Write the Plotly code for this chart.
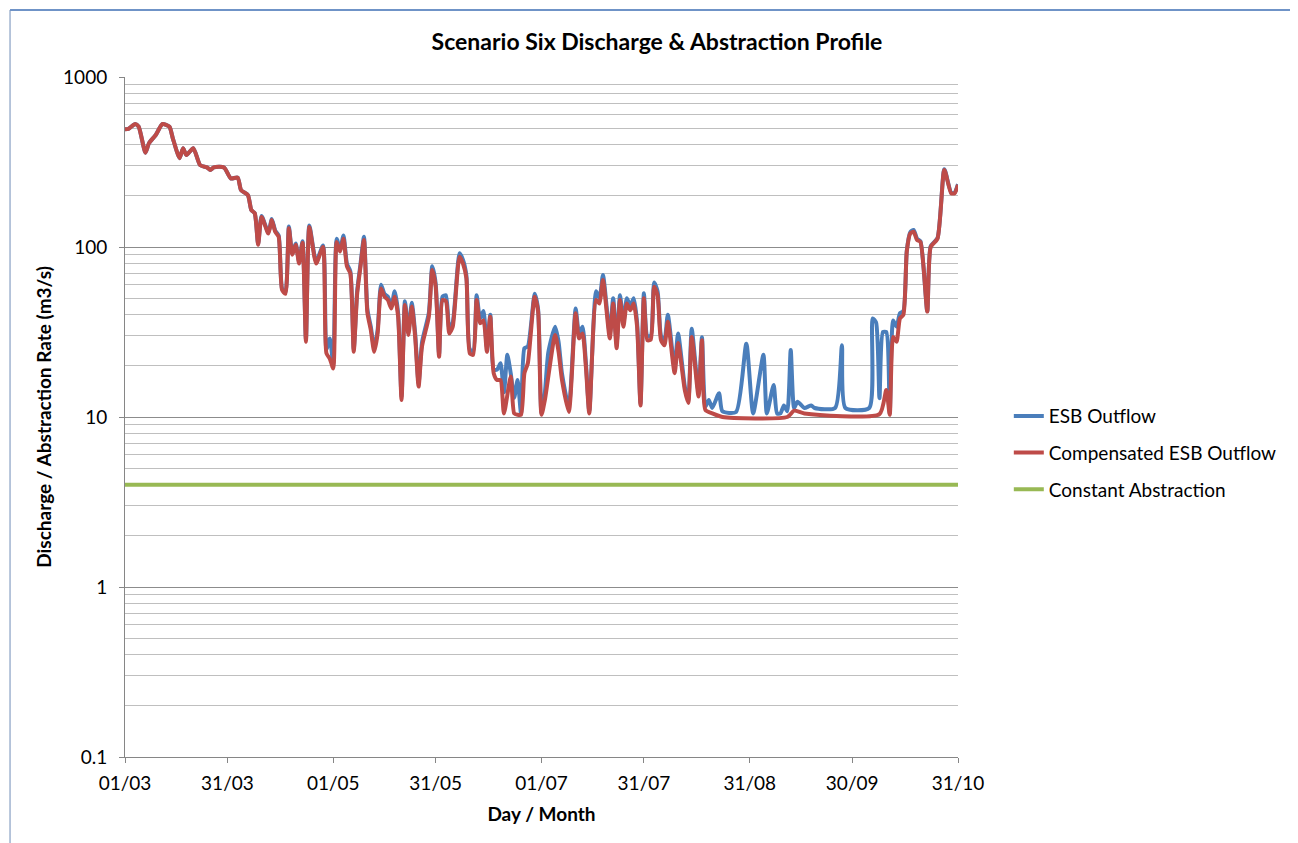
import pandas as pd
import plotly.graph_objects as go

# day offsets from 01/03 and discharge values (m3/s)
start = pd.Timestamp("2011-03-01")

comp_days = [0, 1, 3, 4, 6, 7, 9, 11, 13, 14, 16, 17, 18, 20, 22, 24, 25, 26, 29, 31,
             33, 34, 36, 37, 38, 39, 40, 42, 43, 44, 45, 46, 47, 48, 49, 50, 51, 52, 53, 54,
             56, 58, 59, 60, 61, 62, 63, 64, 65, 66, 67, 68, 69, 70, 71, 72, 73, 74, 75, 76,
             77, 78, 79, 80, 81, 82, 83, 84, 85, 86, 87, 89, 90, 91, 92, 93, 94, 95, 96, 98,
             99, 100, 101, 102, 103, 104, 105, 106, 107, 108, 109, 110, 111, 113, 114, 115, 116, 117, 118, 120,
             121, 122, 123, 126, 127, 128, 130, 132, 133, 134, 135, 136, 138, 139, 140, 142, 143, 144, 145, 146,
             147, 148, 149, 150, 151, 152, 153, 154, 155, 156, 157, 158, 159, 161, 162, 164, 165, 166, 168, 169,
             170, 172, 175, 194, 196, 199, 221, 223, 224, 225, 226, 227, 228, 229, 230, 231, 232, 233, 235, 236,
             238, 240, 242, 243, 244]
comp_values = [492, 495, 529, 510, 359, 407, 456, 529, 510, 436, 333, 381, 348, 381, 303, 294, 284, 294, 294, 253,
               256, 216, 202, 165, 158, 103, 150, 120, 144, 123, 115, 56, 53, 129, 90, 103, 80, 106, 27.7, 131,
               80, 100, 23.7, 22, 19.3, 107, 94, 112, 77, 70, 24.2, 53, 77, 110, 41, 32.5, 24.2, 31, 57, 51,
               48.8, 43.5, 51, 39, 12.6, 45.6, 30.4, 44.6, 29.4, 15.1, 26, 38.9, 73.3, 58.4, 22.6, 48.8, 48, 31, 34, 87.7,
               80, 65.5, 23.7, 23.2, 48.8, 35.6, 37, 24.2, 38.9, 18.1, 16.5, 16.5, 10.5, 17.3, 10.5, 10.3, 10.3, 18.1, 20.7, 51,
               41.7, 10.3, 12.6, 30.4, 24.2, 16.5, 10.7, 40.8, 29, 31, 19.7, 10.5, 48.8, 46.5, 64, 29, 46.5, 25.4, 48.8, 34,
               46.5, 42.5, 46.5, 34, 11.7, 50, 28.3, 28.5, 58.4, 52, 28.3, 26.4, 36.3, 18.1, 27.2, 14.3, 12.1, 29.6, 13.2, 28.3,
               11, 10.5, 10, 10, 10.9, 10.5, 10.4, 14.4, 10.3, 29.6, 27.7, 38, 40, 94, 120, 123, 110, 107, 41.7, 100,
               112, 284, 207, 207, 232]

esb_days = [0, 1, 3, 4, 6, 7, 9, 11, 13, 14, 16, 17, 18, 20, 22, 24, 25, 26, 29, 31,
            33, 34, 36, 37, 38, 39, 40, 42, 43, 44, 45, 46, 47, 48, 49, 50, 51, 52, 53, 54,
            56, 58, 59, 60, 61, 62, 63, 64, 65, 66, 67, 68, 69, 70, 71, 72, 73, 74, 75, 76,
            77, 78, 79, 80, 81, 82, 83, 84, 85, 86, 87, 89, 90, 91, 92, 93, 94, 95, 96, 98,
            99, 100, 101, 102, 103, 104, 105, 106, 107, 108, 109, 110, 111, 112, 113, 114, 115, 116, 117, 118,
            120, 121, 122, 123, 124, 126, 127, 128, 130, 132, 133, 134, 135, 136, 138, 139, 140, 142, 143, 144,
            145, 146, 147, 148, 149, 150, 151, 152, 153, 154, 155, 156, 157, 158, 159, 161, 162, 164, 165, 166,
            168, 169, 170, 171, 172, 174, 175, 179, 182, 184, 187, 188, 190, 191, 192, 193, 194, 195, 196, 197,
            199, 201, 202, 208, 210, 211, 218, 219, 220, 221, 222, 223, 224, 225, 226, 227, 228, 229, 230, 231,
            232, 233, 235, 236, 238, 240, 242, 243, 244]
esb_values = [492, 495, 529, 510, 359, 407, 456, 529, 510, 436, 333, 381, 348, 381, 303, 294, 284, 294, 294, 253,
              256, 216, 202, 165, 158, 104, 152, 122, 146, 125, 117, 57, 54, 132, 92, 105, 82, 108, 28.5, 134,
              82, 102, 25, 29, 20.5, 112, 97, 117, 80, 72, 25, 55, 80, 115, 43, 34, 25.5, 32.5, 60, 53,
              51, 45, 55, 41, 13.2, 48, 32, 47, 31, 15.8, 27.5, 41, 77, 61, 23.5, 51, 52, 33, 36, 92,
              84, 68, 25, 24.5, 52, 38, 42, 25.5, 40, 19, 19, 20.7, 14, 23.2, 18, 13, 16.5, 10.5, 25.4, 26,
              53, 43, 10.5, 14, 24, 34, 27.7, 18, 11.5, 43.5, 31, 34, 21, 10.8, 55, 50, 68.5, 31, 50, 27,
              52, 36, 50, 45, 50, 36, 12, 53.4, 30, 30, 61.8, 55, 30, 28, 40, 19.5, 31, 15, 12.5, 33,
              14, 29.5, 11.5, 12.6, 11.3, 13.8, 10.8, 10.7, 27, 10.5, 23.2, 10.5, 15.4, 10.5, 10.5, 11.7, 10.8, 24.8, 11.3, 12.3,
              11.3, 11.7, 11.3, 11.3, 26.4, 11.3, 11.3, 38, 36, 12.9, 31.6, 31.6, 10.5, 37, 34, 40.8, 42, 95, 122, 126,
              112, 108, 42, 101, 113, 287, 209, 209, 234]

abstraction_days = [0, 244]
abstraction_values = [4, 4]

tick_days = [0, 30, 61, 91, 122, 152, 183, 213, 244]
tick_labels = ["01/03", "31/03", "01/05", "31/05", "01/07", "31/07", "31/08", "30/09", "31/10"]


def to_dates(days):
    return start + pd.to_timedelta(days, unit="D")


fig = go.Figure()
fig.add_trace(go.Scatter(
    x=to_dates(esb_days), y=esb_values, mode="lines", name="ESB Outflow",
    line=dict(color="#4A7EBB", width=4, shape="spline", smoothing=0.6),
    legendgroup="a",
))
fig.add_trace(go.Scatter(
    x=to_dates(comp_days), y=comp_values, mode="lines", name="Compensated ESB Outflow",
    line=dict(color="#BE4B48", width=4, shape="spline", smoothing=0.6),
    legendgroup="b",
))
fig.add_trace(go.Scatter(
    x=to_dates(abstraction_days), y=abstraction_values, mode="lines", name="Constant Abstraction",
    line=dict(color="#98B954", width=4),
    legendgroup="c",
))

minor_vals = [k * 10 ** e for e in range(-1, 3) for k in range(2, 10)]

fig.update_layout(
    width=1298,
    height=843,
    margin=dict(l=117, r=348, t=69, b=94),
    paper_bgcolor="white",
    plot_bgcolor="white",
    font=dict(family="Lato, Open Sans, sans-serif", size=19, color="black"),
    title=dict(
        text="<b>Scenario Six Discharge & Abstraction Profile</b>",
        x=0.5, xanchor="center", y=0.96, yanchor="middle",
        font=dict(size=23),
    ),
    xaxis=dict(
        range=[to_dates([0])[0], to_dates([244])[0]],
        tickvals=to_dates(tick_days),
        ticktext=tick_labels,
        showgrid=False,
        showline=True, linecolor="#868686", linewidth=1,
        ticks="outside", ticklen=5, tickcolor="#868686",
        ticklabelstandoff=4,
        title=dict(text="<b>Day / Month</b>", font=dict(size=19), standoff=14),
    ),
    yaxis=dict(
        type="log",
        range=[-1, 3],
        tickvals=[0.1, 1, 10, 100, 1000],
        ticktext=["0.1", "1", "10", "100", "1000"],
        showgrid=True, gridcolor="#8C8C8C", gridwidth=1,
        minor=dict(tickvals=minor_vals, showgrid=True, gridcolor="#BFBFBF", gridwidth=1, ticks=""),
        showline=True, linecolor="#868686", linewidth=1,
        ticks="outside", ticklen=5, tickcolor="#868686",
        ticklabelstandoff=8,
        title=dict(text="<b>Discharge / Abstraction Rate (m3/s)</b>", font=dict(size=19), standoff=6),
    ),
    legend=dict(
        x=1.061, y=0.447, xanchor="left", yanchor="middle",
        font=dict(size=19), tracegroupgap=9, bgcolor="rgba(0,0,0,0)",
    ),
    showlegend=True,
)

# chart frame: thin grey sides, blue top edge
for fx in (-0.138, 1.401):
    fig.add_shape(type="line", xref="paper", yref="paper", x0=fx, x1=fx, y0=-0.15, y1=1.0985,
                  line=dict(color="#9FB3CF", width=1.5), layer="above")
fig.add_shape(type="line", xref="paper", yref="paper", x0=-0.138, x1=1.401, y0=1.0985, y1=1.0985,
              line=dict(color="#6F93C7", width=2), layer="above")

fig.write_html("out.html")
